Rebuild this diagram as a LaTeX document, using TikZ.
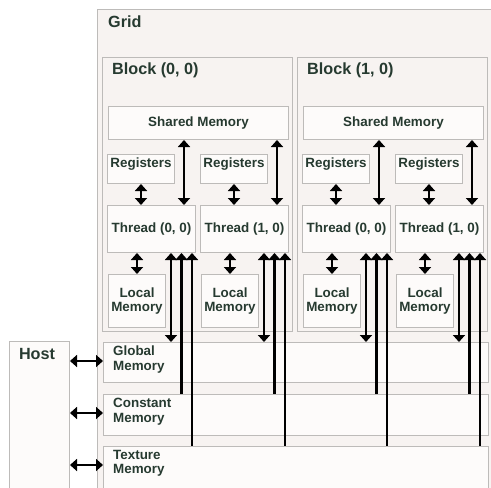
\documentclass[tikz,border=0pt]{standalone}
\usepackage{fontspec}
\setmainfont{Liberation Sans}
\usetikzlibrary{arrows.meta,calc}
\definecolor{txt}{HTML}{263A30}
\definecolor{edge}{HTML}{BDBBB9}
\definecolor{gridbg}{HTML}{F7F3F1}
\definecolor{boxbg}{HTML}{FDFBFA}
\begin{document}
\begin{tikzpicture}[x=1pt,y=-1pt,
  box/.style={draw=edge, fill=boxbg, line width=1pt, anchor=north west, inner sep=0pt},
  bg/.style={box, fill=gridbg},
  lbl/.style={text=txt, font=\bfseries\fontsize{13.4}{14.5}\selectfont, inner sep=0pt, align=center},
  title/.style={text=txt, font=\bfseries\fontsize{16.2}{18}\selectfont, inner sep=0pt, anchor=west},
  tipx/.tip={Triangle[width=12pt,length=7pt]},
  dbl/.style={line width=2.8pt, tipx-tipx},
  upa/.style={line width=2.8pt, tipx-}]
\useasboundingbox (0,0) rectangle (491,488);
\fill[white] (0,0) rectangle (491,488);
% grid
\node[bg, minimum width=400pt, minimum height=500pt] (grid) at (97,9) {};
\node[title] (gridl) at (108,22) {Grid};
% host
\node[box, fill=boxbg, minimum width=60pt, minimum height=160pt] (host) at (9,341) {};
\node[title, anchor=center] (hostl) at (37,354) {Host};
% memories
\node[box, minimum width=385pt, minimum height=40pt] (gm) at (103,342) {};
\node[box, minimum width=385pt, minimum height=41pt] (cm) at (103,394) {};
\node[box, minimum width=385pt, minimum height=42pt] (tm) at (103,446) {};
\node[lbl, anchor=north west, align=left] (gml) at (113,346) {Global\\Memory};
\node[lbl, anchor=north west, align=left] (cml) at (113,398) {Constant\\Memory};
\node[lbl, anchor=north west, align=left] (tml) at (113,450) {Texture\\Memory};
\draw[dbl] (host.east |- 0,361) -- (gm.west |- 0,361);
\draw[dbl] (host.east |- 0,413) -- (cm.west |- 0,413);
\draw[dbl] (host.east |- 0,465) -- (tm.west |- 0,465);
% blocks
\foreach \b/\dx in {0/0,1/195} {
  \node[bg, minimum width=190pt, minimum height=274pt] (blk\b) at (102+\dx,57) {};
  \node[title] (blkl\b) at (112+\dx,70) {Block (\b, 0)};
  \node[box, minimum width=180pt, minimum height=33pt] (sm\b) at (108+\dx,106) {};
  \node[lbl] (sml\b) at (sm\b.center) {Shared Memory};
  \foreach \t in {0,1} {
    \pgfmathsetmacro{\tx}{93*\t}
    \node[box, minimum width=67pt, minimum height=29pt] (reg\b\t) at (107+\dx+\tx,154) {};
    \node[lbl, anchor=north] (regl\b\t) at ($(reg\b\t.north)+(0,3.5)$) {Registers};
    \node[box, minimum width=88pt, minimum height=47pt] (thr\b\t) at (107+\dx+\tx,205) {};
    \node[lbl] (thrl\b\t) at (thr\b\t.center) {Thread (\t, 0)};
    \node[box, minimum width=57pt, minimum height=53pt] (loc\b\t) at (108+\dx+\tx,274) {};
    \node[lbl] (locl\b\t) at (loc\b\t.center) {Local\\Memory};
    \coordinate (s\b\t) at (184+\dx+\tx,0);
    \coordinate (a\b\t) at (171+\dx+\tx,0);
    \coordinate (c\b\t) at (181.5+\dx+\tx,0);
    \coordinate (d\b\t) at (192+\dx+\tx,0);
    \draw[dbl] (reg\b\t.south) -- (reg\b\t.south |- thr\b\t.north);
    \draw[dbl] (sm\b.south -| s\b\t) -- (thr\b\t.north -| s\b\t);
    \draw[dbl] (thr\b\t.south -| loc\b\t.north) -- (loc\b\t.north);
    \draw[dbl] (thr\b\t.south -| a\b\t) -- (gm.north -| a\b\t);
    \draw[upa] (thr\b\t.south -| c\b\t) -- (cm.north -| c\b\t);
    \draw[upa] (thr\b\t.south -| d\b\t) -- (tm.north -| d\b\t);
  }
}
\end{tikzpicture}
\end{document}
